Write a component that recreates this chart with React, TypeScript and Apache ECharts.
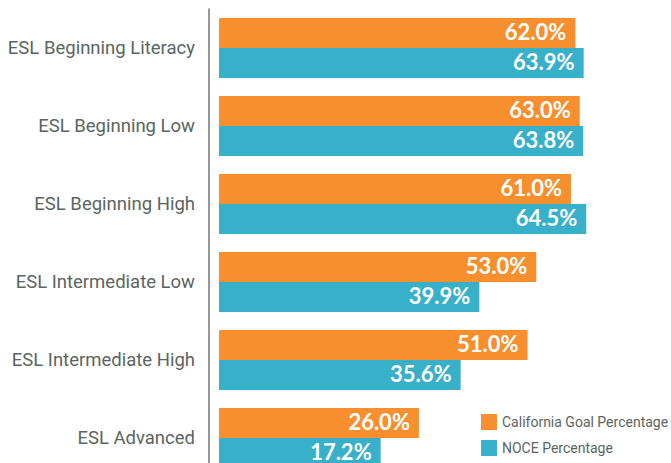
import React, { useEffect, useRef } from "react";
import * as echarts from "echarts";

const categories = [
  "ESL Beginning Literacy",
  "ESL Beginning Low",
  "ESL Beginning High",
  "ESL Intermediate Low",
  "ESL Intermediate High",
  "ESL Advanced",
];
const goalPct = [62.0, 63.0, 61.0, 53.0, 51.0, 26.0];
const nocePct = [63.9, 63.8, 64.5, 39.9, 35.6, 17.2];
const seriesNames = ["California Goal Percentage", "NOCE Percentage"];

const ORANGE = "#F78F2F";
const TEAL = "#38B0CA";
const GRAY = "#5A6561";
const AXIS_START = -20;
const AXIS_END = 84;
const LABEL_FONT = "Roboto, 'Liberation Sans', sans-serif";

export default function App() {
  const ref = useRef<HTMLDivElement>(null);
  useEffect(() => {
    if (!ref.current) return;
    const chart = echarts.init(ref.current, undefined, { renderer: "svg" });
    const label = {
      show: true,
      position: "insideRight",
      distance: 9,
      offset: [0, -2],
      color: "#ffffff",
      fontFamily: "Lato, 'Open Sans', sans-serif",
      fontWeight: "bold",
      fontSize: 22,
      formatter: (p: any) => p.value.toFixed(1) + "%",
    };
    chart.setOption({
      animation: false,
      grid: { left: 219, right: 0, top: 9, height: 468, outerBoundsMode: "none", containLabel: false },
      xAxis: {
        type: "value",
        min: AXIS_START,
        max: AXIS_END,
        startValue: AXIS_START,
        show: false,
      },
      yAxis: {
        type: "category",
        inverse: true,
        data: categories,
        offset: 10,
        axisLine: { show: true, onZero: false, lineStyle: { color: "#6E7A76", width: 1.5 } },
        axisTick: { show: false },
        axisLabel: {
          margin: 14,
          fontSize: 18.5,
          color: GRAY,
          fontFamily: LABEL_FONT,
        },
      },
      legend: {
        orient: "vertical",
        left: 476,
        top: 409,
        height: 60,
        itemWidth: 16,
        itemHeight: 16,
        itemGap: 10,
        icon: "rect",
        textStyle: { color: GRAY, fontSize: 14, fontFamily: LABEL_FONT },
        data: seriesNames,
      },
      series: [
        {
          name: seriesNames[0],
          type: "bar",
          data: goalPct,
          barWidth: 30,
          barGap: "0%",
          itemStyle: { color: ORANGE },
          label,
        },
        {
          name: seriesNames[1],
          type: "bar",
          data: nocePct,
          barWidth: 30,
          barGap: "0%",
          itemStyle: { color: TEAL },
          label,
        },
      ],
    });
    return () => chart.dispose();
  }, []);
  return (
    <div
      ref={ref}
      style={{ position: "fixed", left: 0, top: 0, width: 671, height: 463, background: "#fff" }}
    />
  );
}
